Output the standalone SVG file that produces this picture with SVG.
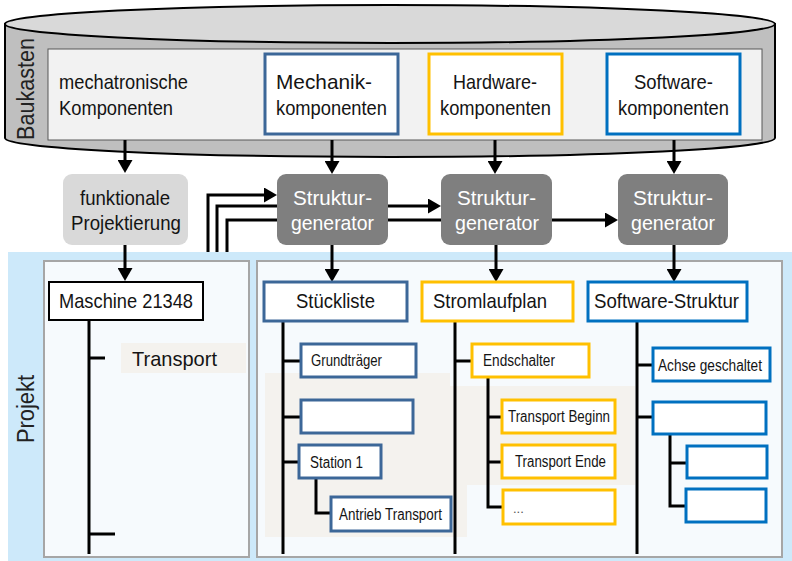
<svg xmlns="http://www.w3.org/2000/svg" width="792" height="561" viewBox="0 0 792 561">
  <style>
    text { font-family: "Liberation Sans", Arial, sans-serif; fill: #141414; }
    .big { font-size: 21px; }
    .small { font-size: 16px; }
    .side { font-size: 23px; fill: #222; }
    .mid { text-anchor: middle; }
    .white { fill: #ffffff; }
    .wire { fill: none; stroke: #000; stroke-width: 3; }
    .tree { fill: none; stroke: #000; stroke-width: 3; }
    .panel { fill: #f6fafd; stroke: #a6a6a6; stroke-width: 2; }
    .beige { fill: #f4f2ee; }
    .mech { fill: #fff; stroke: #3c6798; stroke-width: 3; }
    .hw { fill: #fff; stroke: #ffc000; stroke-width: 3; }
    .sw { fill: #fff; stroke: #0070c0; stroke-width: 3; }
    .gen { fill: #7f7f7f; }
    .dots { font-size: 13px; fill: #555; }
  </style>
  <defs>
    <marker id="arrow" viewBox="0 0 13 15" refX="3" refY="7.5" markerWidth="13" markerHeight="15" markerUnits="userSpaceOnUse" orient="auto">
      <path d="M0,0 L13,7.5 L0,15 Z" fill="#000"/>
    </marker>
  </defs>

  <!-- Baukasten cylinder -->
  <g id="baukasten">
    <path d="M5,24 L5,138 A385,19 0 0 0 775,138 L775,24 Z" fill="#bfbfbf" stroke="#000" stroke-width="2"/>
    <ellipse cx="390" cy="24" rx="385" ry="19" fill="#d9d9d9" stroke="#000" stroke-width="2"/>
    <rect x="48" y="49" width="714" height="91" fill="#f2f2f2" stroke="#595959" stroke-width="1"/>
    <text class="side mid" transform="translate(34,89) rotate(-90)" textLength="102" lengthAdjust="spacingAndGlyphs">Baukasten</text>
  </g>

  <g id="mechatronische-komponenten">
    <text class="big" x="59" y="89" textLength="129" lengthAdjust="spacingAndGlyphs">mechatronische</text>
    <text class="big" x="59" y="115" textLength="114" lengthAdjust="spacingAndGlyphs">Komponenten</text>
  </g>

  <!-- Projekt area -->
  <g id="projekt">
    <rect x="8" y="252" width="784" height="309" fill="#cde9fa"/>
    <text class="side mid" transform="translate(34,409) rotate(-90)" textLength="68" lengthAdjust="spacingAndGlyphs">Projekt</text>
    <rect class="panel" x="44" y="261" width="205" height="296"/>
    <rect class="panel" x="257" y="261" width="525" height="296"/>
    <rect class="beige" x="265" y="373" width="185" height="111"/>
    <rect class="beige" x="265" y="484" width="202" height="53"/>
    <rect class="beige" x="449" y="386" width="186" height="99"/>
  </g>

  <!-- connectors -->
  <g id="connectors">
    <path class="wire" d="M125,140 V163" marker-end="url(#arrow)"/>
    <path class="wire" d="M332,140 V164" marker-end="url(#arrow)"/>
    <path class="wire" d="M495,140 V164" marker-end="url(#arrow)"/>
    <path class="wire" d="M674,140 V164" marker-end="url(#arrow)"/>
    <path class="wire" d="M125,245 V271" marker-end="url(#arrow)"/>
    <path class="wire" d="M332,245 V272" marker-end="url(#arrow)"/>
    <path class="wire" d="M496,245 V272" marker-end="url(#arrow)"/>
    <path class="wire" d="M674,245 V272" marker-end="url(#arrow)"/>
    <path class="wire" d="M208,252 V195 H267" marker-end="url(#arrow)"/>
    <path class="wire" d="M217,252 V206 H431" marker-end="url(#arrow)"/>
    <path class="wire" d="M227,252 V220 H608" marker-end="url(#arrow)"/>

    <!-- Maschine tree -->
    <path class="tree" d="M89,320 V554 M89,358 H105 M89,534 H115"/>
    <!-- Stückliste tree -->
    <path class="tree" d="M283,321 V554 M283,361 H301 M283,417 H301 M283,462 H299 M316,478 V513 H331"/>
    <!-- Stromlaufplan tree -->
    <path class="tree" d="M455,321 V554 M455,361 H472 M488,377 V507 H503 M488,417 H502 M488,462 H502"/>
    <!-- Software-Struktur tree -->
    <path class="tree" d="M637,321 V554 M637,365 H653 M637,417 H653 M670,434 V506 H686 M670,463 H687"/>
  </g>

  <!-- component kits -->
  <g id="mechanikkomponenten">
    <rect class="mech" x="265" y="54" width="133" height="80"/>
    <text class="big" x="276" y="89" textLength="96" lengthAdjust="spacingAndGlyphs">Mechanik-</text>
    <text class="big" x="276" y="115" textLength="111" lengthAdjust="spacingAndGlyphs">komponenten</text>
  </g>
  <g id="hardwarekomponenten">
    <rect class="hw" x="429" y="54" width="133" height="80"/>
    <text class="big" x="453" y="89" textLength="84" lengthAdjust="spacingAndGlyphs">Hardware-</text>
    <text class="big" x="440" y="115" textLength="111" lengthAdjust="spacingAndGlyphs">komponenten</text>
  </g>
  <g id="softwarekomponenten">
    <rect class="sw" x="607" y="54" width="133" height="80"/>
    <text class="big" x="634" y="89" textLength="79" lengthAdjust="spacingAndGlyphs">Software-</text>
    <text class="big" x="618" y="115" textLength="111" lengthAdjust="spacingAndGlyphs">komponenten</text>
  </g>

  <!-- process steps -->
  <g id="funktionale-projektierung">
    <rect x="63" y="174" width="125" height="71" rx="9" fill="#d9d9d9"/>
    <text class="big" x="80" y="205" textLength="90" lengthAdjust="spacingAndGlyphs">funktionale</text>
    <text class="big" x="71" y="230" textLength="110" lengthAdjust="spacingAndGlyphs">Projektierung</text>
  </g>
  <g id="strukturgenerator-1">
    <rect class="gen" x="277" y="174" width="111" height="71" rx="9"/>
    <text class="big white" x="293" y="205" textLength="79" lengthAdjust="spacingAndGlyphs">Struktur-</text>
    <text class="big white" x="291" y="230" textLength="83" lengthAdjust="spacingAndGlyphs">generator</text>
  </g>
  <g id="strukturgenerator-2">
    <rect class="gen" x="441" y="174" width="111" height="71" rx="9"/>
    <text class="big white" x="457" y="205" textLength="79" lengthAdjust="spacingAndGlyphs">Struktur-</text>
    <text class="big white" x="455" y="230" textLength="84" lengthAdjust="spacingAndGlyphs">generator</text>
  </g>
  <g id="strukturgenerator-3">
    <rect class="gen" x="618" y="174" width="110" height="71" rx="9"/>
    <text class="big white" x="633" y="205" textLength="80" lengthAdjust="spacingAndGlyphs">Struktur-</text>
    <text class="big white" x="631" y="230" textLength="84" lengthAdjust="spacingAndGlyphs">generator</text>
  </g>

  <!-- machine structure -->
  <g id="maschine">
    <rect x="49" y="282" width="154" height="38" fill="#fff" stroke="#000" stroke-width="2"/>
    <text class="big" x="59" y="308" textLength="134" lengthAdjust="spacingAndGlyphs">Maschine 21348</text>
  </g>
  <g id="transport">
    <rect class="beige" x="121" y="343" width="125" height="30"/>
    <text class="big" x="132" y="366" textLength="85" lengthAdjust="spacingAndGlyphs">Transport</text>
  </g>

  <!-- Stückliste -->
  <g id="stueckliste">
    <rect class="mech" x="264" y="282" width="143" height="39"/>
    <text class="big" x="296" y="308" textLength="79" lengthAdjust="spacingAndGlyphs">Stückliste</text>
  </g>
  <g id="grundtraeger">
    <rect class="mech" x="301" y="344" width="115" height="33"/>
    <text class="small" x="311" y="366" textLength="71" lengthAdjust="spacingAndGlyphs">Grundträger</text>
  </g>
  <g id="stueckliste-leer">
    <rect class="mech" x="301" y="400" width="112" height="33"/>
  </g>
  <g id="station-1">
    <rect class="mech" x="299" y="445" width="82" height="33"/>
    <text class="small" x="310" y="468" textLength="53" lengthAdjust="spacingAndGlyphs">Station 1</text>
  </g>
  <g id="antrieb-transport">
    <rect class="mech" x="331" y="497" width="120" height="34"/>
    <text class="small" x="339" y="520" textLength="103" lengthAdjust="spacingAndGlyphs">Antrieb Transport</text>
  </g>

  <!-- Stromlaufplan -->
  <g id="stromlaufplan">
    <rect class="hw" x="422" y="282" width="151" height="39"/>
    <text class="big" x="433" y="308" textLength="114" lengthAdjust="spacingAndGlyphs">Stromlaufplan</text>
  </g>
  <g id="endschalter">
    <rect class="hw" x="472" y="344" width="117" height="33"/>
    <text class="small" x="483" y="366" textLength="72" lengthAdjust="spacingAndGlyphs">Endschalter</text>
  </g>
  <g id="transport-beginn">
    <rect class="hw" x="502" y="400" width="113" height="33"/>
    <text class="small" x="508" y="422" textLength="102" lengthAdjust="spacingAndGlyphs">Transport Beginn</text>
  </g>
  <g id="transport-ende">
    <rect class="hw" x="502" y="445" width="113" height="33"/>
    <text class="small" x="515" y="467" textLength="91" lengthAdjust="spacingAndGlyphs">Transport Ende</text>
  </g>
  <g id="weitere-schalter">
    <rect class="hw" x="503" y="490" width="112" height="34"/>
    <text class="dots" x="513" y="513">...</text>
  </g>

  <!-- Software-Struktur -->
  <g id="software-struktur">
    <rect class="sw" x="588" y="282" width="159" height="39"/>
    <text class="big" x="594" y="308" textLength="145" lengthAdjust="spacingAndGlyphs">Software-Struktur</text>
  </g>
  <g id="achse-geschaltet">
    <rect class="sw" x="653" y="348" width="117" height="33"/>
    <text class="small" x="658" y="371" textLength="104" lengthAdjust="spacingAndGlyphs">Achse geschaltet</text>
  </g>
  <g id="software-leer">
    <rect class="sw" x="653" y="402" width="113" height="32"/>
  </g>
  <g id="software-leer-1">
    <rect class="sw" x="687" y="446" width="80" height="32"/>
  </g>
  <g id="software-leer-2">
    <rect class="sw" x="686" y="489" width="80" height="33"/>
  </g>
</svg>
